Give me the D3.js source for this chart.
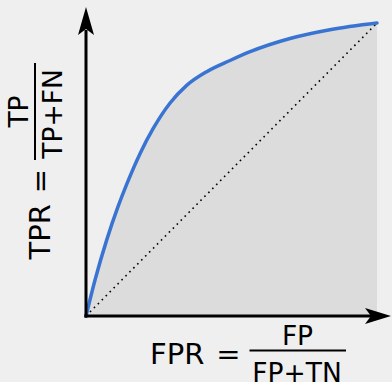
<!DOCTYPE html>
<html>
<head>
<meta charset="utf-8">
<script src="https://cdn.jsdelivr.net/npm/d3@7"></script>
<style>
  html, body { margin: 0; padding: 0; background: #efefef; }
  svg { display: block; }
  text { font-family: "DejaVu Sans", sans-serif; fill: #000; }
</style>
</head>
<body>
<svg id="chart" width="392" height="382"></svg>
<script>
// ROC curve: false positive rate vs true positive rate
const fpr = [0, 0.031, 0.071, 0.110, 0.140, 0.186, 0.231, 0.289, 0.346, 0.415, 0.495, 0.564, 0.701, 0.838, 1];
const tpr = [0, 0.123, 0.259, 0.373, 0.450, 0.555, 0.640, 0.727, 0.787, 0.834, 0.872, 0.902, 0.947, 0.977, 1];
const chance = [0, 1];

const svg = d3.select("#chart");
const x = d3.scaleLinear().domain([0, 1]).range([86, 377]);
const y = d3.scaleLinear().domain([0, 1]).range([316, 23]);

const pts = fpr.map((f, i) => [f, tpr[i]]);

// shaded area under the curve
svg.append("path")
  .attr("d", d3.area().x(d => x(d[0])).y0(y(0)).y1(d => y(d[1])).curve(d3.curveMonotoneX)(pts))
  .attr("fill", "#dcdcdc");

// diagonal of a random classifier
svg.append("line")
  .attr("x1", x(chance[0])).attr("y1", y(chance[0]))
  .attr("x2", x(chance[1])).attr("y2", y(chance[1]))
  .attr("stroke", "#000").attr("stroke-width", 1.6)
  .attr("stroke-dasharray", "1.6,4");

// ROC curve
svg.append("path")
  .attr("d", d3.line().x(d => x(d[0])).y(d => y(d[1])).curve(d3.curveMonotoneX)(pts))
  .attr("fill", "none").attr("stroke", "#3a74d2").attr("stroke-width", 3.5)
  .attr("stroke-linecap", "round");

// axes with arrowheads
const x0 = x(0), y0 = y(0);
svg.append("line").attr("x1", x0).attr("y1", y0 + 1.5).attr("x2", x0).attr("y2", 30)
  .attr("stroke", "#000").attr("stroke-width", 3);
svg.append("path")
  .attr("d", `M${x0},7 L${x0 - 8},35 L${x0},29 L${x0 + 8},35 Z`).attr("fill", "#000");
svg.append("line").attr("x1", x0 - 1.5).attr("y1", y0).attr("x2", 372).attr("y2", y0)
  .attr("stroke", "#000").attr("stroke-width", 3);
svg.append("path")
  .attr("d", `M391,${y0} L365,${y0 - 8} L371,${y0} L365,${y0 + 8} Z`).attr("fill", "#000");

// x-axis label: FPR = FP / (FP+TN)
const xl = svg.append("g");
xl.append("text").attr("x", 150).attr("y", 364).attr("font-size", 29).text("FPR");
xl.append("text").attr("x", 228.5).attr("y", 364).attr("font-size", 29).attr("text-anchor", "middle").text("=");
xl.append("line").attr("x1", 249.5).attr("x2", 346).attr("y1", 350.5).attr("y2", 350.5)
  .attr("stroke", "#000").attr("stroke-width", 2);
xl.append("text").attr("x", 297.5).attr("y", 345).attr("font-size", 26.5).attr("text-anchor", "middle").text("FP");
xl.append("text").attr("x", 297).attr("y", 382).attr("font-size", 26.5).attr("text-anchor", "middle").text("FP+TN");

// y-axis label: TPR = TP / (TP+FN)
const yl = svg.append("g");
yl.append("text").attr("transform", "translate(50,259.5) rotate(-90)").attr("font-size", 29).text("TPR");
yl.append("text").attr("transform", "translate(50,181) rotate(-90)").attr("font-size", 29).attr("text-anchor", "middle").text("=");
yl.append("line").attr("x1", 35).attr("x2", 35).attr("y1", 63).attr("y2", 160)
  .attr("stroke", "#000").attr("stroke-width", 2);
yl.append("text").attr("transform", "translate(27.5,111.5) rotate(-90)").attr("font-size", 26.5).attr("text-anchor", "middle").text("TP");
yl.append("text").attr("transform", "translate(62,114) rotate(-90)").attr("font-size", 26.5).attr("text-anchor", "middle").text("TP+FN");
</script>
</body>
</html>
